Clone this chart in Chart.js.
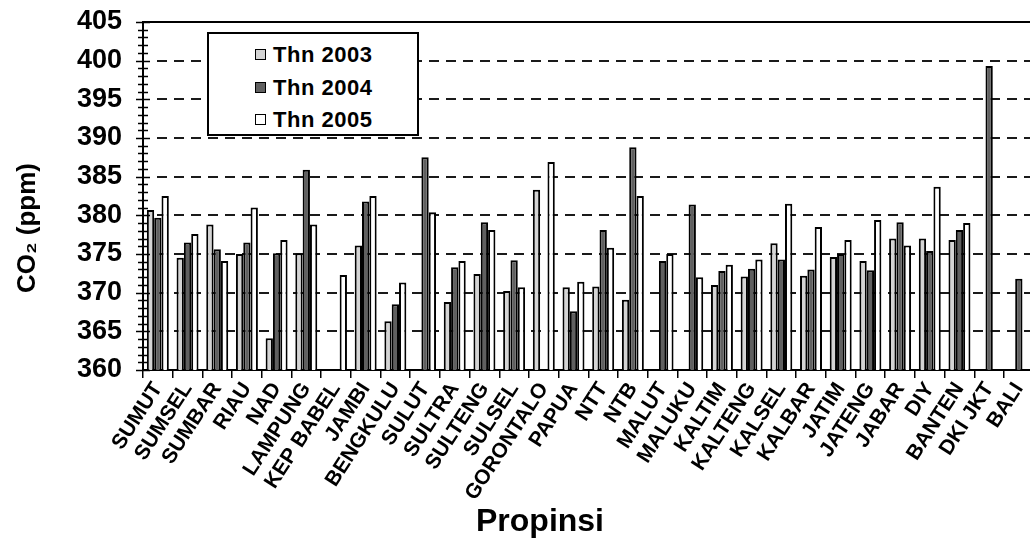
<!DOCTYPE html>
<html>
<head>
<meta charset="utf-8">
<script src="https://cdn.jsdelivr.net/npm/chart.js@4.4.0/dist/chart.umd.min.js"></script>
<style>
    body { margin: 0; background: #fff; overflow: hidden; }
    #wrap { position: relative; width: 1030px; height: 545px; overflow: hidden; }
    #kotakChart { position: absolute; left: 0; top: 0; width: 1040px; height: 545px; }
    #legenda {
        position: absolute; left: 207px; top: 32px; width: 208px; height: 100px;
        border: 2px solid #000; background: #fff;
        font-family: 'Liberation Sans', Arial, sans-serif; font-weight: bold; font-size: 22px; color: #000;
    }
    .item { position: absolute; left: 46px; height: 26px; line-height: 26px; white-space: nowrap; letter-spacing: 0.5px; }
    .warna { display: inline-block; width: 9px; height: 9px; border: 1.5px solid #000; margin-right: 7px; position: relative; top: -2px; }
</style>
</head>
<body>
<div id="wrap">
    <div id="kotakChart"><canvas id="grafikCO2"></canvas></div>
    <div id="legenda">
        <div class="item" style="top:8px"><span class="warna" style="background:#d4d4d4"></span>Thn 2003</div>
        <div class="item" style="top:41px"><span class="warna" style="background:#606060"></span>Thn 2004</div>
        <div class="item" style="top:73px"><span class="warna" style="background:#fff"></span>Thn 2005</div>
    </div>
</div>
<script>
// data (ppm)
const provinsi = ['SUMUT', 'SUMSEL', 'SUMBAR', 'RIAU', 'NAD', 'LAMPUNG', 'KEP BABEL', 'JAMBI', 'BENGKULU', 'SULUT',
    'SULTRA', 'SULTENG', 'SULSEL', 'GORONTALO', 'PAPUA', 'NTT', 'NTB', 'MALUT', 'MALUKU', 'KALTIM',
    'KALTENG', 'KALSEL', 'KALBAR', 'JATIM', 'JATENG', 'JABAR', 'DIY', 'BANTEN', 'DKI JKT', 'BALI'];

const thn2003 = [380.7, 374.5, 378.8, 375.0, 364.1, 375.1, null, 376.1, 366.3, null,
    368.8, 372.4, 370.2, 383.3, 370.7, 370.8, 369.1, null, null, 371.0,
    372.1, 376.4, 372.2, 374.6, 374.1, 377.0, 377.0, 376.8, null, null];

const thn2004 = [379.7, 376.5, 375.6, 376.5, 375.1, 385.9, null, 381.8, 368.5, 387.5,
    373.3, 379.1, 374.2, null, 367.6, 378.1, 388.8, 374.1, 381.4, 372.8,
    373.1, 374.3, 373.0, 375.0, 372.9, 379.1, 375.4, 378.1, 399.3, 371.8];

const thn2005 = [382.5, 377.6, 374.1, 381.0, 376.8, 378.8, 372.3, 382.5, 371.3, 380.4,
    374.1, 378.1, 370.7, 386.9, 371.4, 375.8, 382.5, 375.0, 372.0, 373.6,
    374.3, 381.5, 378.5, 376.8, 379.4, 376.1, 383.7, 379.0, null, null];

const yMin = 360;
const yMax = 405;
const huruf = "'Liberation Sans', Arial, sans-serif";

// garis putus-putus, garis atas, tanda skala kecil, judul sumbu
const garisPlugin = {
    id: 'garis',
    beforeDatasetsDraw(chart) {
        const { ctx, chartArea, scales: { y } } = chart;
        ctx.save();
        ctx.strokeStyle = '#1a1a1a';
        ctx.lineWidth = 2;
        ctx.setLineDash([10, 7]);
        for (let v = yMin + 5; v < yMax; v += 5) {
            const py = Math.round(y.getPixelForValue(v));
            ctx.beginPath();
            ctx.moveTo(chartArea.left + 14, py);
            ctx.lineTo(chartArea.right, py);
            ctx.stroke();
        }
        ctx.restore();
    },
    afterDraw(chart) {
        const { ctx, chartArea, scales: { y } } = chart;
        ctx.save();
        ctx.strokeStyle = '#000';
        ctx.lineWidth = 2;
        ctx.beginPath();
        ctx.moveTo(chartArea.left, chartArea.top);
        ctx.lineTo(chartArea.right, chartArea.top);
        ctx.stroke();

        ctx.lineWidth = 1.5;
        for (let v = yMin; v <= yMax; v++) {
            const py = Math.round(y.getPixelForValue(v)) + 0.5;
            const len = v % 5 === 0 ? 7 : 5;
            ctx.beginPath();
            ctx.moveTo(chartArea.left - len, py);
            ctx.lineTo(chartArea.left + len, py);
            ctx.stroke();
        }

        ctx.fillStyle = '#000';
        ctx.textAlign = 'center';
        ctx.textBaseline = 'middle';
        ctx.font = 'bold 32px ' + huruf;
        ctx.fillText('Propinsi', 540, 522);

        ctx.translate(28, 228);
        ctx.rotate(-Math.PI / 2);
        ctx.font = 'bold 26px ' + huruf;
        ctx.fillText('CO₂ (ppm)', 0, 0);
        ctx.restore();
    }
};

const dataset = {
    labels: provinsi,
    datasets: [
        { label: 'Thn 2003', data: thn2003, backgroundColor: '#d4d4d4', borderColor: '#000', borderWidth: 2 },
        { label: 'Thn 2004', data: thn2004, backgroundColor: '#606060', borderColor: '#000', borderWidth: 2 },
        { label: 'Thn 2005', data: thn2005, backgroundColor: '#ffffff', borderColor: '#000', borderWidth: 2 }
    ]
};

new Chart(document.getElementById('grafikCO2').getContext('2d'), {
    type: 'bar',
    data: dataset,
    plugins: [garisPlugin],
    options: {
        responsive: true,
        maintainAspectRatio: false,
        animation: false,
        layout: { padding: { left: 0, top: 22, right: 2, bottom: 0 } },
        datasets: { bar: { categoryPercentage: 0.74, barPercentage: 1.0 } },
        plugins: {
            legend: { display: false },
            tooltip: { enabled: false }
        },
        scales: {
            x: {
                grid: { display: true, drawOnChartArea: false, drawTicks: true, tickLength: 8, color: '#000', lineWidth: 1.5, offset: true },
                border: { display: true, color: '#000', width: 2 },
                ticks: {
                    color: '#000', autoSkip: false, minRotation: 57, maxRotation: 57, padding: 0,
                    font: { family: huruf, weight: 'bold', size: 21 }
                },
                afterFit(scale) { scale.height = 175; }
            },
            y: {
                min: yMin,
                max: yMax,
                grid: { display: false },
                border: { display: true, color: '#000', width: 2 },
                ticks: {
                    stepSize: 5, color: '#000', padding: 13,
                    font: { family: huruf, weight: 'bold', size: 27 }
                },
                afterFit(scale) {
                    scale.width = 143;
                    scale.paddingTop = 0;
                    scale.paddingBottom = 0;
                }
            }
        }
    }
});
</script>
</body>
</html>
